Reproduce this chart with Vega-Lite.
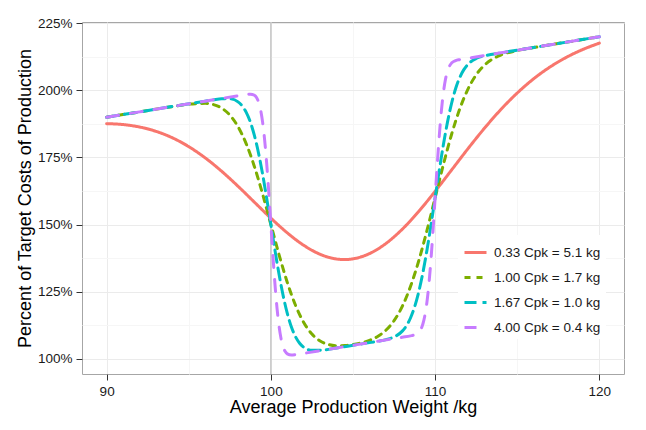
{
  "$schema": "https://vega.github.io/schema/vega-lite/v6.json",
  "description": "Expected production cost vs average production weight for four process capabilities",
  "width": 542,
  "height": 352,
  "autosize": {"type": "none"},
  "padding": {"left": 82, "top": 22, "right": 22, "bottom": 56},
  "background": "white",
  "datasets": {
    "costs": [
      {"w": 90, "cost": 187.61, "s": "0.33 Cpk = 5.1 kg"},
      {"w": 91, "cost": 187.27, "s": "0.33 Cpk = 5.1 kg"},
      {"w": 92, "cost": 186.36, "s": "0.33 Cpk = 5.1 kg"},
      {"w": 93, "cost": 184.75, "s": "0.33 Cpk = 5.1 kg"},
      {"w": 94, "cost": 182.34, "s": "0.33 Cpk = 5.1 kg"},
      {"w": 95, "cost": 179.04, "s": "0.33 Cpk = 5.1 kg"},
      {"w": 96, "cost": 174.86, "s": "0.33 Cpk = 5.1 kg"},
      {"w": 97, "cost": 169.88, "s": "0.33 Cpk = 5.1 kg"},
      {"w": 98, "cost": 164.28, "s": "0.33 Cpk = 5.1 kg"},
      {"w": 99, "cost": 158.32, "s": "0.33 Cpk = 5.1 kg"},
      {"w": 100, "cost": 152.39, "s": "0.33 Cpk = 5.1 kg"},
      {"w": 101, "cost": 146.89, "s": "0.33 Cpk = 5.1 kg"},
      {"w": 102, "cost": 142.26, "s": "0.33 Cpk = 5.1 kg"},
      {"w": 103, "cost": 138.91, "s": "0.33 Cpk = 5.1 kg"},
      {"w": 103.5, "cost": 137.81, "s": "0.33 Cpk = 5.1 kg"},
      {"w": 104, "cost": 137.16, "s": "0.33 Cpk = 5.1 kg"},
      {"w": 104.5, "cost": 136.96, "s": "0.33 Cpk = 5.1 kg"},
      {"w": 105, "cost": 137.22, "s": "0.33 Cpk = 5.1 kg"},
      {"w": 105.5, "cost": 137.96, "s": "0.33 Cpk = 5.1 kg"},
      {"w": 106, "cost": 139.16, "s": "0.33 Cpk = 5.1 kg"},
      {"w": 107, "cost": 142.91, "s": "0.33 Cpk = 5.1 kg"},
      {"w": 108, "cost": 148.26, "s": "0.33 Cpk = 5.1 kg"},
      {"w": 109, "cost": 154.89, "s": "0.33 Cpk = 5.1 kg"},
      {"w": 110, "cost": 162.39, "s": "0.33 Cpk = 5.1 kg"},
      {"w": 111, "cost": 170.32, "s": "0.33 Cpk = 5.1 kg"},
      {"w": 112, "cost": 178.28, "s": "0.33 Cpk = 5.1 kg"},
      {"w": 113, "cost": 185.88, "s": "0.33 Cpk = 5.1 kg"},
      {"w": 114, "cost": 192.86, "s": "0.33 Cpk = 5.1 kg"},
      {"w": 115, "cost": 199.04, "s": "0.33 Cpk = 5.1 kg"},
      {"w": 116, "cost": 204.34, "s": "0.33 Cpk = 5.1 kg"},
      {"w": 117, "cost": 208.75, "s": "0.33 Cpk = 5.1 kg"},
      {"w": 118, "cost": 212.36, "s": "0.33 Cpk = 5.1 kg"},
      {"w": 119, "cost": 215.27, "s": "0.33 Cpk = 5.1 kg"},
      {"w": 120, "cost": 217.61, "s": "0.33 Cpk = 5.1 kg"},

      {"w": 90, "cost": 190.0, "s": "1.00 Cpk = 1.7 kg"},
      {"w": 92, "cost": 192.0, "s": "1.00 Cpk = 1.7 kg"},
      {"w": 94, "cost": 193.98, "s": "1.00 Cpk = 1.7 kg"},
      {"w": 95, "cost": 194.87, "s": "1.00 Cpk = 1.7 kg"},
      {"w": 96, "cost": 195.18, "s": "1.00 Cpk = 1.7 kg"},
      {"w": 96.5, "cost": 194.71, "s": "1.00 Cpk = 1.7 kg"},
      {"w": 97, "cost": 193.41, "s": "1.00 Cpk = 1.7 kg"},
      {"w": 97.5, "cost": 190.82, "s": "1.00 Cpk = 1.7 kg"},
      {"w": 98, "cost": 186.49, "s": "1.00 Cpk = 1.7 kg"},
      {"w": 98.5, "cost": 180.09, "s": "1.00 Cpk = 1.7 kg"},
      {"w": 99, "cost": 171.57, "s": "1.00 Cpk = 1.7 kg"},
      {"w": 99.5, "cost": 161.29, "s": "1.00 Cpk = 1.7 kg"},
      {"w": 100, "cost": 150.0, "s": "1.00 Cpk = 1.7 kg"},
      {"w": 100.5, "cost": 138.71, "s": "1.00 Cpk = 1.7 kg"},
      {"w": 101, "cost": 128.43, "s": "1.00 Cpk = 1.7 kg"},
      {"w": 101.5, "cost": 119.91, "s": "1.00 Cpk = 1.7 kg"},
      {"w": 102, "cost": 113.51, "s": "1.00 Cpk = 1.7 kg"},
      {"w": 102.5, "cost": 109.18, "s": "1.00 Cpk = 1.7 kg"},
      {"w": 103, "cost": 106.59, "s": "1.00 Cpk = 1.7 kg"},
      {"w": 103.5, "cost": 105.29, "s": "1.00 Cpk = 1.7 kg"},
      {"w": 104, "cost": 104.84, "s": "1.00 Cpk = 1.7 kg"},
      {"w": 104.5, "cost": 104.9, "s": "1.00 Cpk = 1.7 kg"},
      {"w": 105, "cost": 105.27, "s": "1.00 Cpk = 1.7 kg"},
      {"w": 105.5, "cost": 105.9, "s": "1.00 Cpk = 1.7 kg"},
      {"w": 106, "cost": 106.84, "s": "1.00 Cpk = 1.7 kg"},
      {"w": 106.5, "cost": 108.29, "s": "1.00 Cpk = 1.7 kg"},
      {"w": 107, "cost": 110.59, "s": "1.00 Cpk = 1.7 kg"},
      {"w": 107.5, "cost": 114.18, "s": "1.00 Cpk = 1.7 kg"},
      {"w": 108, "cost": 119.51, "s": "1.00 Cpk = 1.7 kg"},
      {"w": 108.5, "cost": 126.91, "s": "1.00 Cpk = 1.7 kg"},
      {"w": 109, "cost": 136.43, "s": "1.00 Cpk = 1.7 kg"},
      {"w": 109.5, "cost": 147.71, "s": "1.00 Cpk = 1.7 kg"},
      {"w": 110, "cost": 160.0, "s": "1.00 Cpk = 1.7 kg"},
      {"w": 110.5, "cost": 172.29, "s": "1.00 Cpk = 1.7 kg"},
      {"w": 111, "cost": 183.57, "s": "1.00 Cpk = 1.7 kg"},
      {"w": 111.5, "cost": 193.09, "s": "1.00 Cpk = 1.7 kg"},
      {"w": 112, "cost": 200.49, "s": "1.00 Cpk = 1.7 kg"},
      {"w": 112.5, "cost": 205.82, "s": "1.00 Cpk = 1.7 kg"},
      {"w": 113, "cost": 209.41, "s": "1.00 Cpk = 1.7 kg"},
      {"w": 113.5, "cost": 211.71, "s": "1.00 Cpk = 1.7 kg"},
      {"w": 114, "cost": 213.18, "s": "1.00 Cpk = 1.7 kg"},
      {"w": 115, "cost": 214.87, "s": "1.00 Cpk = 1.7 kg"},
      {"w": 116, "cost": 215.98, "s": "1.00 Cpk = 1.7 kg"},
      {"w": 118, "cost": 218.0, "s": "1.00 Cpk = 1.7 kg"},
      {"w": 120, "cost": 220.0, "s": "1.00 Cpk = 1.7 kg"},

      {"w": 90, "cost": 190.0, "s": "1.67 Cpk = 1.0 kg"},
      {"w": 92, "cost": 192.0, "s": "1.67 Cpk = 1.0 kg"},
      {"w": 94, "cost": 194.0, "s": "1.67 Cpk = 1.0 kg"},
      {"w": 96, "cost": 196.0, "s": "1.67 Cpk = 1.0 kg"},
      {"w": 96.5, "cost": 196.48, "s": "1.67 Cpk = 1.0 kg"},
      {"w": 97, "cost": 196.87, "s": "1.67 Cpk = 1.0 kg"},
      {"w": 97.5, "cost": 196.88, "s": "1.67 Cpk = 1.0 kg"},
      {"w": 98, "cost": 195.72, "s": "1.67 Cpk = 1.0 kg"},
      {"w": 98.25, "cost": 194.24, "s": "1.67 Cpk = 1.0 kg"},
      {"w": 98.5, "cost": 191.82, "s": "1.67 Cpk = 1.0 kg"},
      {"w": 98.75, "cost": 188.19, "s": "1.67 Cpk = 1.0 kg"},
      {"w": 99, "cost": 183.13, "s": "1.67 Cpk = 1.0 kg"},
      {"w": 99.25, "cost": 176.59, "s": "1.67 Cpk = 1.0 kg"},
      {"w": 99.5, "cost": 168.65, "s": "1.67 Cpk = 1.0 kg"},
      {"w": 99.75, "cost": 159.62, "s": "1.67 Cpk = 1.0 kg"},
      {"w": 100, "cost": 150.0, "s": "1.67 Cpk = 1.0 kg"},
      {"w": 100.25, "cost": 140.38, "s": "1.67 Cpk = 1.0 kg"},
      {"w": 100.5, "cost": 131.35, "s": "1.67 Cpk = 1.0 kg"},
      {"w": 100.75, "cost": 123.41, "s": "1.67 Cpk = 1.0 kg"},
      {"w": 101, "cost": 116.87, "s": "1.67 Cpk = 1.0 kg"},
      {"w": 101.25, "cost": 111.81, "s": "1.67 Cpk = 1.0 kg"},
      {"w": 101.5, "cost": 108.18, "s": "1.67 Cpk = 1.0 kg"},
      {"w": 101.75, "cost": 105.76, "s": "1.67 Cpk = 1.0 kg"},
      {"w": 102, "cost": 104.28, "s": "1.67 Cpk = 1.0 kg"},
      {"w": 102.5, "cost": 103.12, "s": "1.67 Cpk = 1.0 kg"},
      {"w": 103, "cost": 103.13, "s": "1.67 Cpk = 1.0 kg"},
      {"w": 104, "cost": 104.0, "s": "1.67 Cpk = 1.0 kg"},
      {"w": 105, "cost": 105.0, "s": "1.67 Cpk = 1.0 kg"},
      {"w": 106, "cost": 106.0, "s": "1.67 Cpk = 1.0 kg"},
      {"w": 107, "cost": 107.13, "s": "1.67 Cpk = 1.0 kg"},
      {"w": 107.5, "cost": 108.12, "s": "1.67 Cpk = 1.0 kg"},
      {"w": 108, "cost": 110.28, "s": "1.67 Cpk = 1.0 kg"},
      {"w": 108.25, "cost": 112.26, "s": "1.67 Cpk = 1.0 kg"},
      {"w": 108.5, "cost": 115.18, "s": "1.67 Cpk = 1.0 kg"},
      {"w": 108.75, "cost": 119.31, "s": "1.67 Cpk = 1.0 kg"},
      {"w": 109, "cost": 124.87, "s": "1.67 Cpk = 1.0 kg"},
      {"w": 109.25, "cost": 131.91, "s": "1.67 Cpk = 1.0 kg"},
      {"w": 109.5, "cost": 140.35, "s": "1.67 Cpk = 1.0 kg"},
      {"w": 109.75, "cost": 149.88, "s": "1.67 Cpk = 1.0 kg"},
      {"w": 110, "cost": 160.0, "s": "1.67 Cpk = 1.0 kg"},
      {"w": 110.25, "cost": 170.12, "s": "1.67 Cpk = 1.0 kg"},
      {"w": 110.5, "cost": 179.65, "s": "1.67 Cpk = 1.0 kg"},
      {"w": 110.75, "cost": 188.09, "s": "1.67 Cpk = 1.0 kg"},
      {"w": 111, "cost": 195.13, "s": "1.67 Cpk = 1.0 kg"},
      {"w": 111.25, "cost": 200.69, "s": "1.67 Cpk = 1.0 kg"},
      {"w": 111.5, "cost": 204.82, "s": "1.67 Cpk = 1.0 kg"},
      {"w": 111.75, "cost": 207.74, "s": "1.67 Cpk = 1.0 kg"},
      {"w": 112, "cost": 209.72, "s": "1.67 Cpk = 1.0 kg"},
      {"w": 112.5, "cost": 211.88, "s": "1.67 Cpk = 1.0 kg"},
      {"w": 113, "cost": 212.87, "s": "1.67 Cpk = 1.0 kg"},
      {"w": 114, "cost": 214.0, "s": "1.67 Cpk = 1.0 kg"},
      {"w": 116, "cost": 216.0, "s": "1.67 Cpk = 1.0 kg"},
      {"w": 118, "cost": 218.0, "s": "1.67 Cpk = 1.0 kg"},
      {"w": 120, "cost": 220.0, "s": "1.67 Cpk = 1.0 kg"},

      {"w": 90, "cost": 190.0, "s": "4.00 Cpk = 0.4 kg"},
      {"w": 92, "cost": 192.0, "s": "4.00 Cpk = 0.4 kg"},
      {"w": 94, "cost": 194.0, "s": "4.00 Cpk = 0.4 kg"},
      {"w": 96, "cost": 196.0, "s": "4.00 Cpk = 0.4 kg"},
      {"w": 98, "cost": 198.0, "s": "4.00 Cpk = 0.4 kg"},
      {"w": 98.5, "cost": 198.48, "s": "4.00 Cpk = 0.4 kg"},
      {"w": 98.75, "cost": 198.61, "s": "4.00 Cpk = 0.4 kg"},
      {"w": 99, "cost": 198.18, "s": "4.00 Cpk = 0.4 kg"},
      {"w": 99.125, "cost": 197.34, "s": "4.00 Cpk = 0.4 kg"},
      {"w": 99.25, "cost": 195.66, "s": "4.00 Cpk = 0.4 kg"},
      {"w": 99.375, "cost": 192.7, "s": "4.00 Cpk = 0.4 kg"},
      {"w": 99.5, "cost": 187.99, "s": "4.00 Cpk = 0.4 kg"},
      {"w": 99.625, "cost": 181.22, "s": "4.00 Cpk = 0.4 kg"},
      {"w": 99.75, "cost": 172.32, "s": "4.00 Cpk = 0.4 kg"},
      {"w": 99.875, "cost": 161.67, "s": "4.00 Cpk = 0.4 kg"},
      {"w": 100, "cost": 150.0, "s": "4.00 Cpk = 0.4 kg"},
      {"w": 100.125, "cost": 138.34, "s": "4.00 Cpk = 0.4 kg"},
      {"w": 100.25, "cost": 127.68, "s": "4.00 Cpk = 0.4 kg"},
      {"w": 100.375, "cost": 118.79, "s": "4.00 Cpk = 0.4 kg"},
      {"w": 100.5, "cost": 112.01, "s": "4.00 Cpk = 0.4 kg"},
      {"w": 100.625, "cost": 107.31, "s": "4.00 Cpk = 0.4 kg"},
      {"w": 100.75, "cost": 104.34, "s": "4.00 Cpk = 0.4 kg"},
      {"w": 100.875, "cost": 102.67, "s": "4.00 Cpk = 0.4 kg"},
      {"w": 101, "cost": 101.82, "s": "4.00 Cpk = 0.4 kg"},
      {"w": 101.25, "cost": 101.39, "s": "4.00 Cpk = 0.4 kg"},
      {"w": 101.5, "cost": 101.52, "s": "4.00 Cpk = 0.4 kg"},
      {"w": 102, "cost": 102.0, "s": "4.00 Cpk = 0.4 kg"},
      {"w": 104, "cost": 104.0, "s": "4.00 Cpk = 0.4 kg"},
      {"w": 106, "cost": 106.0, "s": "4.00 Cpk = 0.4 kg"},
      {"w": 108, "cost": 108.0, "s": "4.00 Cpk = 0.4 kg"},
      {"w": 108.5, "cost": 108.52, "s": "4.00 Cpk = 0.4 kg"},
      {"w": 108.75, "cost": 108.89, "s": "4.00 Cpk = 0.4 kg"},
      {"w": 109, "cost": 109.82, "s": "4.00 Cpk = 0.4 kg"},
      {"w": 109.125, "cost": 110.92, "s": "4.00 Cpk = 0.4 kg"},
      {"w": 109.25, "cost": 112.84, "s": "4.00 Cpk = 0.4 kg"},
      {"w": 109.375, "cost": 116.06, "s": "4.00 Cpk = 0.4 kg"},
      {"w": 109.5, "cost": 121.01, "s": "4.00 Cpk = 0.4 kg"},
      {"w": 109.625, "cost": 128.04, "s": "4.00 Cpk = 0.4 kg"},
      {"w": 109.75, "cost": 137.18, "s": "4.00 Cpk = 0.4 kg"},
      {"w": 109.875, "cost": 148.09, "s": "4.00 Cpk = 0.4 kg"},
      {"w": 110, "cost": 160.0, "s": "4.00 Cpk = 0.4 kg"},
      {"w": 110.125, "cost": 171.92, "s": "4.00 Cpk = 0.4 kg"},
      {"w": 110.25, "cost": 182.82, "s": "4.00 Cpk = 0.4 kg"},
      {"w": 110.375, "cost": 191.97, "s": "4.00 Cpk = 0.4 kg"},
      {"w": 110.5, "cost": 198.99, "s": "4.00 Cpk = 0.4 kg"},
      {"w": 110.625, "cost": 203.95, "s": "4.00 Cpk = 0.4 kg"},
      {"w": 110.75, "cost": 207.16, "s": "4.00 Cpk = 0.4 kg"},
      {"w": 110.875, "cost": 209.09, "s": "4.00 Cpk = 0.4 kg"},
      {"w": 111, "cost": 210.18, "s": "4.00 Cpk = 0.4 kg"},
      {"w": 111.25, "cost": 211.11, "s": "4.00 Cpk = 0.4 kg"},
      {"w": 111.5, "cost": 211.48, "s": "4.00 Cpk = 0.4 kg"},
      {"w": 112, "cost": 212.0, "s": "4.00 Cpk = 0.4 kg"},
      {"w": 114, "cost": 214.0, "s": "4.00 Cpk = 0.4 kg"},
      {"w": 116, "cost": 216.0, "s": "4.00 Cpk = 0.4 kg"},
      {"w": 118, "cost": 218.0, "s": "4.00 Cpk = 0.4 kg"},
      {"w": 120, "cost": 220.0, "s": "4.00 Cpk = 0.4 kg"}
    ]
  },
  "encoding": {
    "x": {
      "field": "w",
      "type": "quantitative",
      "title": "Average Production Weight /kg",
      "scale": {"domain": [88.5, 121.5], "nice": false, "zero": false},
      "axis": {
        "values": [90, 95, 100, 105, 110, 115, 120],
        "labelExpr": "datum.value % 10 === 0 ? datum.label : ''",
        "labelOverlap": false,
        "labelFlush": false,
        "gridColor": {"condition": {"test": "datum.value % 10 === 0", "value": "#ebebeb"}, "value": "#f6f6f6"},
        "tickOpacity": {"condition": {"test": "datum.value % 10 === 0", "value": 1}, "value": 0},
        "titlePadding": 1
      }
    }
  },
  "layer": [
    {
      "data": {"values": [{"w": 100}]},
      "mark": {"type": "rule", "color": "#c6c6c6", "strokeWidth": 1.5}
    },
    {
      "data": {"name": "costs"},
      "mark": {"type": "line", "strokeWidth": 3, "strokeCap": "round", "interpolate": "monotone"},
      "encoding": {
        "y": {
          "field": "cost",
          "type": "quantitative",
          "title": "Percent of Target Costs of Production",
          "scale": {"domain": [94.3, 225.5], "nice": false, "zero": false},
          "axis": {
            "values": [100, 112.5, 125, 137.5, 150, 162.5, 175, 187.5, 200, 212.5, 225],
            "labelExpr": "datum.value % 25 === 0 ? datum.value + '%' : ''",
            "labelOverlap": false,
            "labelFlush": false,
            "gridColor": {"condition": {"test": "datum.value % 25 === 0", "value": "#ebebeb"}, "value": "#f6f6f6"},
            "tickOpacity": {"condition": {"test": "datum.value % 25 === 0", "value": 1}, "value": 0},
            "titlePadding": 3
          }
        },
        "color": {
          "field": "s",
          "type": "nominal",
          "scale": {
            "domain": ["0.33 Cpk = 5.1 kg", "1.00 Cpk = 1.7 kg", "1.67 Cpk = 1.0 kg", "4.00 Cpk = 0.4 kg"],
            "range": ["#F8766D", "#7CAE00", "#00BFC4", "#C77CFF"]
          },
          "legend": {"title": null, "orient": "none", "legendX": 376, "legendY": 213}
        },
        "strokeDash": {
          "field": "s",
          "type": "nominal",
          "scale": {
            "domain": ["0.33 Cpk = 5.1 kg", "1.00 Cpk = 1.7 kg", "1.67 Cpk = 1.0 kg", "4.00 Cpk = 0.4 kg"],
            "range": [[1, 0], [6, 6], [12, 6], [12, 12]]
          },
          "legend": {"title": null, "orient": "none", "legendX": 376, "legendY": 213}
        }
      }
    }
  ],
  "config": {
    "view": {"stroke": "#a6a6a6", "strokeWidth": 1},
    "axis": {
      "domain": false,
      "labelFont": "Liberation Sans",
      "labelFontSize": 13.5,
      "labelColor": "#1a1a1a",
      "labelPadding": 4,
      "titleFont": "Liberation Sans",
      "titleFontSize": 18,
      "titleFontWeight": "normal",
      "titleColor": "#000000",
      "tickColor": "#333333",
      "tickSize": 6
    },
    "legend": {
      "labelFont": "Liberation Sans",
      "labelFontSize": 13.5,
      "labelColor": "#1a1a1a",
      "labelOffset": 6,
      "symbolType": "stroke",
      "symbolStrokeWidth": 3,
      "symbolSize": 484,
      "rowPadding": 6,
      "fillColor": "white",
      "padding": 5
    }
  }
}
